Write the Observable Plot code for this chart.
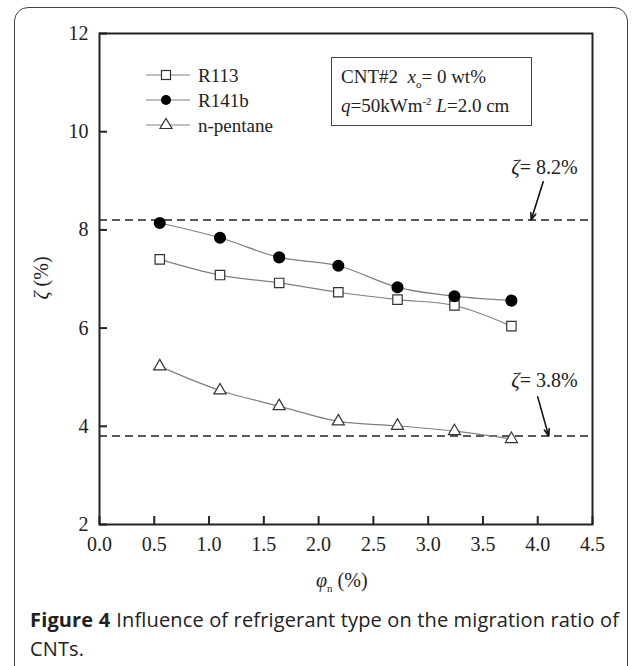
<!DOCTYPE html>
<html>
<head>
<meta charset="utf-8">
<script src="https://cdn.jsdelivr.net/npm/d3@7"></script>
<script src="https://cdn.jsdelivr.net/npm/@observablehq/plot@0.6"></script>
<style>
  html, body { margin: 0; padding: 0; background: #fff; }
  #wrap { position: relative; width: 635px; height: 666px; overflow: hidden; font-family: "Liberation Serif", serif; color: #222; }
  #frame { position: absolute; left: 14px; top: 7px; width: 614px; height: 680px; border: 1.5px solid #444; border-radius: 14px; box-sizing: border-box; }
  #chart { position: absolute; left: 0; top: 0; }
  .ov { position: absolute; white-space: nowrap; font-size: 20px; line-height: 1; }
  #legend .row { position: absolute; left: 144px; height: 20px; width: 200px; }
  #legend svg { position: absolute; left: 0; top: 0; }
  #legend span { position: absolute; left: 54px; top: 0px; font-size: 19px; white-space: nowrap; }
  #params { position: absolute; left: 331px; top: 57px; width: 201px; height: 69px; border: 1.5px solid #444; box-sizing: border-box; background: #fff; font-size: 19px; }
  #params div { position: absolute; left: 9px; white-space: nowrap; }
  #caption { position: absolute; left: 30px; top: 605px; width: 600px; font-family: "Open Sans", sans-serif; font-size: 20px; line-height: 29px; color: #222; letter-spacing: 0.15px; }
  #capTitle { position: absolute; left: 0; top: 0; font-weight: bold; white-space: nowrap; }
  #capLine1 { position: absolute; left: 86px; top: 0; white-space: nowrap; }
  #capLine2 { position: absolute; left: 0; top: 29px; white-space: nowrap; }
</style>
</head>
<body>
<div id="wrap">
  <div id="frame"></div>
  <div id="chart"></div>
  <div id="legend"></div>
  <div id="params">
    <div style="top:8px">CNT#2&nbsp;&nbsp;<i>x</i><sub style="font-size:11px">o</sub>= 0 wt%</div>
    <div style="top:37px"><i>q</i>=50kWm<sup style="font-size:11px">-2</sup> <i>L</i>=2.0 cm</div>
  </div>
  <div class="ov" id="xtitle" style="left:316px; top:570px;"><i>φ</i><sub style="font-size:11px">n</sub> (%)</div>
  <div class="ov" id="ytitle" style="left:19px; top:268px; transform: rotate(-90deg); transform-origin: center;"><i>ζ</i> (%)</div>
  <div id="caption">
    <span id="capTitle">Figure 4</span>
    <span id="capLine1">Influence of refrigerant type on the migration ratio of</span>
    <span id="capLine2">CNTs.</span>
  </div>
</div>
<script>
// ---- data ----
const phi = [0.55, 1.1, 1.64, 2.18, 2.72, 3.24, 3.76];
const r113 = [7.40, 7.08, 6.92, 6.73, 6.58, 6.46, 6.04];
const r141b = [8.14, 7.84, 7.44, 7.27, 6.83, 6.65, 6.56];
const pentane = [5.22, 4.73, 4.41, 4.10, 4.01, 3.90, 3.74];
const seriesNames = ["R113", "R141b", "n-pentane"];
const refLines = [8.2, 3.8];
const refLabels = ["= 8.2%", "= 3.8%"];
const labelX = [4.0, 4.0];
const labelY = [9.27, 4.93];
const arrowFromX = [4.05, 4.0];
const arrowFromY = [8.98, 4.6];
const arrowToX = [3.94, 4.1];
const xTicks = [0, 0.5, 1, 1.5, 2, 2.5, 3, 3.5, 4, 4.5];
const yTicks = [2, 4, 6, 8, 10, 12];

const mk = (ys) => phi.map((x, i) => ({x, y: ys[i]}));
const d113 = mk(r113), d141 = mk(r141b), dpen = mk(pentane);
const ann = refLines.map((v, i) => ({
  lx: labelX[i], ly: labelY[i], label: refLabels[i],
  x1: arrowFromX[i], y1: arrowFromY[i], x2: arrowToX[i], y2: v
}));

const lineStyle = {x: "x", y: "y", stroke: "#808080", strokeWidth: 1.2, curve: "catmull-rom"};
const blank = () => "";

const plot = Plot.plot({
  width: 635,
  height: 600,
  marginLeft: 99,
  marginRight: 43,
  marginTop: 33,
  marginBottom: 76,
  style: {fontFamily: "Liberation Serif, serif", fontSize: "20px", color: "#222", background: "transparent"},
  x: {domain: [0, 4.5]},
  y: {domain: [2, 12]},
  marks: [
    Plot.ruleY(refLines, {stroke: "#222", strokeWidth: 1.5, strokeDasharray: "8,5"}),
    Plot.line(d113, lineStyle),
    Plot.line(d141, lineStyle),
    Plot.line(dpen, lineStyle),
    Plot.dot(d113, {x: "x", y: "y", symbol: "square", r: 5.3, fill: "white", stroke: "#333", strokeWidth: 1.2}),
    Plot.dot(d141, {x: "x", y: "y", symbol: "circle", r: 5.3, fill: "black", stroke: "black"}),
    Plot.dot(dpen, {x: "x", y: "y", symbol: "triangle", r: 4.5, fill: "white", stroke: "#333", strokeWidth: 1.2}),
    Plot.arrow(ann, {x1: "x1", y1: "y1", x2: "x2", y2: "y2", stroke: "#111", strokeWidth: 1.6, headLength: 7, headAngle: 40}),
    Plot.text(ann, {x: "lx", y: "ly", text: () => "ζ", fontStyle: "italic", textAnchor: "end", dx: -18, fontSize: 21, fill: "#222"}),
    Plot.text(ann, {x: "lx", y: "ly", text: "label", textAnchor: "start", dx: -18, fontSize: 20, fill: "#222"}),
    // tick labels
    Plot.axisX({ticks: xTicks, tickFormat: d3.format(".1f"), tickSize: 0, tickPadding: 12, fontSize: 20, fill: "#222", label: null}),
    Plot.axisY({ticks: yTicks, tickFormat: d3.format("d"), tickSize: 0, tickPadding: 11, fontSize: 20, fill: "#222", label: null}),
    // inward ticks
    Plot.axisX({ticks: xTicks, tickFormat: blank, tickSize: 8, dy: -8, stroke: "#222", strokeWidth: 2, label: null}),
    Plot.axisY({ticks: yTicks, tickFormat: blank, tickSize: 8, dx: 8, stroke: "#222", strokeWidth: 2, label: null}),
    Plot.frame({stroke: "#222", strokeWidth: 2})
  ]
});
plot.querySelectorAll('g[aria-label$="tick label"]').forEach(g => {
  g.setAttribute("font-size", "20");
  g.style.fontSize = "20px";
});
document.getElementById("chart").appendChild(plot);

// legend
const legend = document.getElementById("legend");
const legendY = [65, 90, 115];
const markerSvg = [
  '<rect x="17.5" y="5.5" width="9" height="9" fill="white" stroke="#333" stroke-width="1.2"/>',
  '<circle cx="22" cy="10" r="5" fill="black"/>',
  '<path d="M22,3.5 L28,13.5 L16,13.5 Z" fill="white" stroke="#333" stroke-width="1.2"/>'
];
seriesNames.forEach((name, i) => {
  const row = document.createElement("div");
  row.className = "row";
  row.style.top = legendY[i] + "px";
  row.innerHTML = `<svg width="48" height="20"><line x1="2" y1="10" x2="46" y2="10" stroke="#808080" stroke-width="1.2"/>${markerSvg[i]}</svg><span>${name}</span>`;
  legend.appendChild(row);
});

// place caption line 1 right after the bold title
const t = document.getElementById("capTitle");
document.getElementById("capLine1").style.left = (t.getBoundingClientRect().width + 6) + "px";
</script>
</body>
</html>
